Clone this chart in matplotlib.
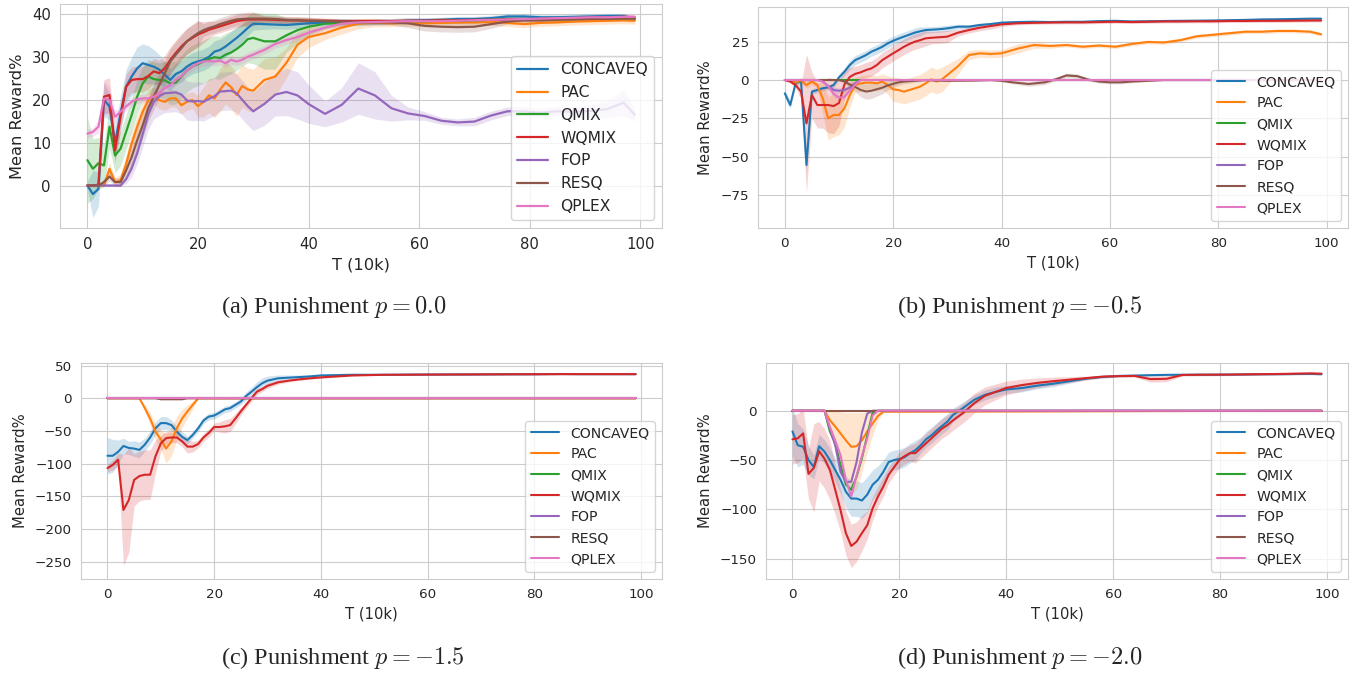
import numpy as np
import matplotlib
matplotlib.use('Agg')
import matplotlib.pyplot as plt
import seaborn as sns
from matplotlib.ticker import MultipleLocator

# methods in legend order
methods = ['CONCAVEQ', 'PAC', 'QMIX', 'WQMIX', 'FOP', 'RESQ', 'QPLEX']
colors = ['tab:blue', 'tab:orange', 'tab:green', 'tab:red', 'tab:purple', 'tab:brown', 'tab:pink']
captions = [r'(a) Punishment $p = 0.0$', r'(b) Punishment $p = -0.5$',
            r'(c) Punishment $p = -1.5$', r'(d) Punishment $p = -2.0$']

# shared time grid (T in 10k steps)
t_grid = list(range(0, 31)) + [32, 34, 36, 38, 40] + list(range(43, 98, 3)) + [99]
t_flat = [0, 99]
zero_flat = [0, 0]

# ---------------- (a) p = 0.0 ----------------
a_concaveq = [0, -2, -0.8, 20, 18.4, 10, 16.8, 23, 25.4, 27.3,
              28.5, 28.1, 27.7, 27, 25.8, 24.6, 26, 26.6, 27.7, 28.5,
              28.9, 29.3, 30, 31.2, 31.6, 32.4, 33.4, 34.4, 35.5, 36.7, 37.7,
              37.6, 37.5, 37.4, 37.6, 37.8,
              38, 38.1, 38, 38.2, 38.2, 38.4, 38.5, 38.6, 38.8, 38.8,
              39, 39.4, 39.4, 39.2, 39.2, 39.3, 39.4, 39.5, 39.5, 38.8]
a_concaveq_sd = [1, 5.5, 4, 4, 3, 4, 4, 4, 4.5, 5,
                 4.5, 4.5, 4, 3.5, 3, 2.5, 2.5, 2.5, 2.5, 2.5,
                 2.5, 2.5, 2.5, 2.5, 2.5, 2.5, 2.5, 2.5, 2, 1.8, 1.5,
                 1.2, 1, 1, 1, 0.8,
                 0.8, 0.8, 0.8, 0.7, 0.7, 0.7, 0.6, 0.6, 0.6, 0.6,
                 0.6, 0.6, 0.6, 0.6, 0.6, 0.6, 0.6, 0.6, 0.6, 0.6]
a_pac = [0, 0, 0, 0, 3.9, 0.8, 1.2, 5, 9.8, 13.7,
         17.2, 19.9, 21, 19.9, 19.5, 20.3, 20.3, 18.7, 19.5, 19.9,
         18.5, 19.5, 21, 20.3, 22.3, 24, 22.9, 21.1, 23.2, 22.4, 22.1,
         24.6, 25.4, 28.6, 32.8, 34.6,
         35.5, 36.8, 37.7, 38, 37.8, 37.9, 37.8, 37.9, 38, 38,
         38.1, 37.9, 37.6, 37.9, 38, 38.2, 38.3, 38.4, 38.5, 38.4]
a_pac_sd = [0.3, 0.3, 0.3, 0.3, 1.5, 1, 1.5, 2, 2.5, 2.5,
            2.5, 2.5, 2, 2, 2, 2, 2, 2, 2, 2,
            2.5, 3.5, 4, 4.5, 5, 5, 5, 5, 5, 5, 5,
            5, 4.5, 3.5, 3, 2.5,
            1.5, 1.5, 1.2, 1, 0.8, 0.8, 0.8, 0.8, 0.8, 0.8,
            0.8, 0.8, 0.8, 0.8, 0.8, 0.8, 0.8, 0.8, 0.8, 0.8]
a_qmix = [5.9, 3.9, 5.2, 4.7, 13.7, 7, 8.6, 12.5, 16.4, 20.7,
          23.8, 25.4, 24.8, 24.6, 24.5, 23.8, 24, 25.4, 26.8, 27.7,
          28.3, 28.9, 29.5, 29.9, 29.7, 30.5, 31, 31.8, 32.8, 34.1, 34.4,
          33.6, 33.6, 35, 36.2, 37,
          37.7, 37.9, 38, 38.1, 38.2, 38.3, 38.3, 38.4, 38.4, 38.5,
          38.6, 38.8, 38.8, 38.8, 38.9, 38.9, 39, 39, 39, 39]
a_qmix_sd = [10, 7, 6, 5, 5, 4, 4, 4, 4, 4,
             4, 4, 4, 4, 4.5, 5, 5, 5, 5, 5,
             5, 5, 5, 5, 5, 5, 5, 5, 5, 5.5, 6,
             6.5, 6.5, 4, 3, 2,
             1.2, 0.8, 0.6, 0.6, 0.6, 0.6, 0.6, 0.6, 0.6, 0.6,
             0.6, 0.6, 0.6, 0.6, 0.6, 0.6, 0.6, 0.6, 0.6, 0.6]
a_wqmix = [0, 0, 0.2, 20.7, 21.1, 8.2, 16, 23, 24.6, 24.8,
           24.8, 25.5, 26.6, 26.2, 27.3, 29.3, 30.9, 32.4, 33.6, 34.4,
           35.2, 35.7, 36.3, 36.7, 37.1, 37.5, 37.9, 38.3, 38.5, 38.7, 38.7,
           38.7, 38.6, 38.5, 38.5, 38.4,
           38.4, 38.3, 38.3, 38.3, 38.3, 38.4, 38.4, 38.5, 38.5, 38.6,
           38.6, 38.7, 38.7, 38.8, 38.9, 39, 39.1, 39.2, 39.3, 39.2]
a_wqmix_sd = [0.3, 0.3, 0.5, 4, 4, 3, 3, 3, 3, 3,
              3, 3, 3, 3, 3, 3, 3, 3, 3, 3,
              3, 2.5, 2, 1.5, 1.5, 1.5, 1.5, 1.5, 1.5, 1.5, 1.5,
              0.8, 0.8, 0.8, 0.8, 0.8,
              0.6, 0.6, 0.6, 0.6, 0.6, 0.6, 0.6, 0.6, 0.6, 0.6,
              0.6, 0.6, 0.6, 0.6, 0.6, 0.6, 0.6, 0.6, 0.6, 0.6]
a_fop = [0, 0, 0, 0, 0, 0, 0, 1.5, 4, 7.5,
         12, 16.5, 19.5, 20.8, 21.5, 21.6, 21.7, 21.2, 19.8, 19.6,
         19.7, 19.5, 20.2, 20.8, 21.9, 22, 22.1, 21.5, 20, 18.5, 17.3,
         19, 21.2, 21.8, 21, 19,
         16.7, 18.8, 22.6, 21, 18, 16.8, 16.2, 15.1, 14.7, 14.9,
         16.3, 17.3, 17.3, 17, 17.3, 17.2, 17.4, 17.8, 19.3, 16.5]
a_fop_sd = [0.2, 0.2, 0.2, 0.2, 0.2, 0.2, 0.2, 1, 2, 2.5,
            3, 3.5, 4, 4.5, 4.5, 4.5, 4.5, 4.5, 4.5, 4.5,
            4.5, 4.5, 4.5, 4.5, 4.5, 4.5, 4.5, 4.5, 4.5, 4.5, 4.5,
            5, 5, 5.5, 5.5, 4.5,
            3, 4, 6, 5.5, 3, 1.5, 1, 0.8, 0.8, 1,
            1, 1, 1, 1, 1, 1.2, 1.5, 2, 3, 1.5]
a_resq = [0, 0, 0, 0.8, 2.1, 0.8, 0.8, 3.5, 6.6, 10.5,
          14, 18, 20.7, 23.4, 26.2, 28.9, 30.5, 32, 33.6, 34.6,
          35.5, 36.2, 36.7, 37.1, 37.6, 38, 38.4, 38.7, 38.8, 38.9, 38.9,
          38.9, 38.8, 38.6, 38.5, 38.4,
          38.3, 38.2, 38.1, 38, 38, 37.8, 37.2, 37, 36.9, 37,
          37.6, 38.2, 38.5, 38.5, 38.6, 38.7, 38.8, 38.8, 38.9, 38.9]
a_resq_sd = [0.2, 0.2, 0.2, 1, 1, 1, 1, 2, 3, 3,
             3, 3, 3, 3, 3, 3, 3, 3, 3, 3,
             3, 1.5, 1.5, 1.5, 1.5, 1.5, 1.5, 1.5, 1.5, 1.5, 1.5,
             0.8, 0.8, 0.8, 0.8, 0.8,
             0.6, 0.6, 0.6, 0.6, 0.6, 1, 1.2, 1.2, 1.2, 1.2,
             1, 0.6, 0.6, 0.6, 0.6, 0.6, 0.6, 0.6, 0.6, 0.6]
a_qplex = [12.1, 12.5, 13.7, 20.3, 19.9, 16, 17.2, 18.4, 19.5, 20.1,
           20.3, 20.3, 20.7, 21.5, 22.7, 23.4, 24.6, 25.5, 26.8, 27.7,
           28.5, 28.9, 29, 28.9, 29.1, 28.5, 29.3, 28.9, 29.3, 30, 30.5,
           31.6, 33, 33.9, 34.6, 35.6,
           36.8, 37.7, 38, 38.1, 38.2, 38.3, 38.3, 38.3, 38.4, 38.5,
           38.6, 38.7, 38.8, 38.9, 39, 39.1, 39.2, 39.2, 39.3, 39.3]
a_qplex_sd = [1, 1, 1.5, 4, 3, 1.5, 1, 1, 1, 1,
              1, 1, 1, 1, 1, 1, 1, 1, 1, 1,
              1, 1, 1, 1, 1, 1, 1, 1, 1, 1, 1,
              1, 1, 1, 1, 0.8,
              0.6, 0.5, 0.5, 0.5, 0.5, 0.5, 0.5, 0.5, 0.5, 0.5,
              0.5, 0.5, 0.5, 0.5, 0.5, 0.5, 0.5, 0.5, 0.5, 0.5]

# ---------------- (b) p = -0.5 ----------------
b_concaveq = [-8.7, -16.3, -2, -1, -55.4, -7.6, -6.5, -5.4, -4.8, -3.3,
              1.7, 5.4, 9.8, 13, 14.6, 16.3, 18.5, 20, 21.7, 23.9,
              25.6, 27, 28.3, 29.6, 30.9, 31.8, 32.6, 32.8, 33, 33.3, 33.7,
              34.8, 34.8, 35.9, 36.5, 37.4,
              37.8, 38, 37.8, 38, 38, 38.4, 38.6, 38.2, 38.3, 38.5,
              38.6, 38.7, 38.8, 39, 39.2, 39.5, 39.6, 39.8, 40, 40]
b_concaveq_sd = [2.5, 2.5, 1, 1, 5, 2, 1.5, 1.5, 1.5, 1.5,
                 2, 2.5, 3, 3, 3, 3, 3, 3, 3, 3,
                 3, 3, 3, 3, 3, 3, 2, 2, 2, 2, 2,
                 1.5, 1.2, 1, 1, 1,
                 0.8, 0.8, 0.8, 0.8, 0.8, 0.8, 0.8, 0.8, 0.8, 0.8,
                 0.8, 0.8, 0.8, 0.8, 0.8, 0.8, 0.8, 0.8, 0.8, 0.8]
b_pac = [0, 0, -1.7, -0.4, -3.3, -1, -3.3, -12, -25, -22.8,
         -22.8, -18.5, -9.8, -3.3, -2.2, -1.7, -1.7, -2.2, -1, -3.3,
         -6.1, -6.5, -7.6, -6.5, -5.4, -4.3, -2.2, 0.4, -1, 0.4, 3.3,
         9.1, 16.3, 17.4, 17, 17.4,
         20.5, 22.8, 22.2, 22.8, 21.7, 22.5, 21.7, 23.5, 24.8, 24.5,
         26, 28.5, 29.5, 30.5, 31.5, 31.5, 32, 32, 31.5, 29.8]
b_pac_sd = [0.5, 0.5, 2, 2, 2, 2, 2, 10, 14, 14,
            13, 12, 8, 5, 5, 5, 5, 5, 5, 6,
            8, 8, 8, 8, 8, 8, 8, 8, 8, 8, 7,
            5, 3, 2.5, 2.5, 2.5,
            3, 2, 1.5, 1.2, 1.2, 1.2, 1.2, 1.2, 1.2, 1.2,
            1.2, 1.2, 1.2, 1.2, 1.2, 1.2, 1.2, 1.2, 1.2, 1.2]
b_wqmix = [0, -1, -3.3, -7.6, -28.3, -9.8, -16.3, -16.3, -16.3, -17,
           -15, -3, 2, 4, 5, 6.5, 7.6, 9.8, 13, 15.2,
           17.4, 19.5, 21.7, 23.5, 25, 26, 27.2, 27.5, 27.8, 28, 28.3,
           30.9, 32.6, 34.1, 35.2, 36.3,
           37, 37.3, 37.5, 37.6, 37.6, 37.8, 38, 37.8, 38, 38.2,
           38.2, 38.3, 38.3, 38.5, 38.5, 38.6, 38.6, 38.7, 38.8, 38.8]
b_wqmix_sd = [0.5, 1, 2, 5, 45, 15, 15, 15, 18, 18,
              15, 10, 6, 5, 5, 5, 5, 5, 5, 5,
              5, 5, 5, 5, 5, 5, 5, 4, 4, 4, 4,
              2, 2, 2, 2, 1.5,
              1, 1, 1, 1, 1, 1, 1, 1, 1, 1,
              1, 1, 1, 1, 1, 1, 1, 1, 1, 1]
b_dip_t = [0, 6, 7, 8, 9, 10, 11, 12, 13, 14, 99]
b_fop = [0, 0, -1, -4, -6.5, -7, -6.5, -5, -2, 0, 0]
b_fop_sd = [0, 0, 1, 1.5, 2, 2, 2, 1.5, 1, 0, 0]
b_qplex = [0, 0, -1, -4, -9, -11.5, -11, -7, -3, 0, 0]
b_qplex_sd = [0, 0, 1, 1.5, 2, 2, 2, 1.5, 1, 0, 0]
b_resq_t = [0, 10, 11, 12, 13, 14, 15, 16, 17, 18, 19, 20, 21, 22, 24, 26, 30,
            35, 38, 40, 42, 45, 48, 50, 52, 54, 56, 58, 60, 62, 64, 66, 70, 99]
b_resq = [0, 0, -1, -3, -4.5, -6.5, -7.5, -7, -6, -5, -3.5, -2.5, -1.5, -1, -0.5, 0, -0.5,
          -0.3, 0, -0.5, -1.5, -2.6, -1.5, 0.5, 3, 2.5, 0.3, -1, -1.5, -1.5, -1, -0.7, 0, 0]
b_resq_sd = [0, 0, 1, 2, 3, 4.5, 5, 5, 4.5, 4, 3, 2.5, 2, 1.5, 1, 0.5, 0.5,
             0.5, 0.5, 0.5, 1, 1.5, 1.5, 1, 1.5, 1.5, 1, 1, 1, 1, 0.8, 0.5, 0, 0]

# ---------------- (c) p = -1.5 ----------------
c_concaveq = [-88, -88, -82, -73, -76, -77, -79, -71, -60, -46,
              -38, -38, -41, -51, -59, -64, -56, -46, -34, -28,
              -26.5, -22, -17, -15, -10, -5, 3.6, 10, 17, 23, 27,
              30.6, 31.6, 32.5, 33.5, 35,
              35.5, 36, 36, 36, 36.2, 36.3, 36.4, 36.5, 36.5, 36.6,
              36.7, 36.8, 36.8, 37, 37.2, 37, 37, 37, 37, 37]
c_concaveq_sd = [28, 25, 18, 12, 10, 12, 12, 10, 10, 10,
                 10, 10, 8, 8, 8, 6, 5, 5, 5, 5,
                 5, 5, 5, 5, 5, 5, 6, 7, 8, 8, 7,
                 5, 4, 3, 2, 1.5,
                 1, 1, 1, 1, 1, 1, 1, 1, 1, 1,
                 1, 1, 1, 1, 1, 1, 1, 1, 1, 1]
c_wqmix = [-107, -102, -94, -171, -156, -125, -119, -117, -117, -89,
           -69, -61, -60, -60, -66, -74, -74, -70, -60, -53,
           -44, -44, -43, -41, -31, -20, -10, 0, 10, 14, 19,
           24.5, 27, 29, 30.6, 32,
           33.5, 35, 35.5, 36, 36, 36.2, 36.3, 36.4, 36.5, 36.6,
           36.7, 36.8, 36.8, 36.9, 37, 37, 37, 37, 37, 37]
c_wqmix_sd = [5, 8, 10, 85, 80, 40, 38, 38, 38, 25,
              12, 10, 8, 8, 8, 10, 8, 6, 6, 6,
              6, 8, 10, 10, 8, 6, 5, 5, 5, 4, 4,
              3, 2, 1.5, 1.5, 1.5,
              1, 1, 1, 1, 1, 1, 1, 1, 1, 1,
              1, 1, 1, 1, 1, 1, 1, 1, 1, 1]
c_pac_t = [0, 6, 7, 8, 9, 10, 11, 12, 13, 14, 15, 16, 17, 99]
c_pac = [0, 0, -15, -31, -51, -63, -77, -66, -46, -31, -20, -10, 0, 0]
c_pac_sd = [0, 0, 5, 10, 12, 15, 22, 22, 18, 14, 10, 6, 1, 0]
c_resq_t = [0, 9, 10, 14, 15, 99]
c_resq = [0, 0, -1.5, -1.5, 0, 0]

# ---------------- (d) p = -2.0 ----------------
d_concaveq = [-21, -35, -36.5, -50, -57, -36, -41.5, -50, -60, -70,
              -82, -89, -89, -91, -85, -75, -70, -62, -52, -50,
              -49, -47, -43, -40, -35, -29, -25, -20, -15.5, -11, -4.5,
              3, 11, 16, 19, 21.5,
              23, 25.5, 27.5, 30, 32.5, 34.2, 35.2, 35.6, 36, 36.3,
              36.4, 36.5, 36.5, 36.6, 36.8, 37, 37, 37.2, 37.3, 37]
d_concaveq_sd = [25, 22, 18, 15, 12, 12, 12, 12, 12, 14,
                 16, 18, 18, 18, 18, 15, 14, 12, 10, 10,
                 10, 10, 10, 10, 8, 8, 8, 8, 8, 8, 7,
                 6, 5, 5, 5, 4,
                 4, 3, 3, 2, 1, 1, 1, 1, 1, 1,
                 1, 1, 1, 1, 1, 1, 1, 1, 1, 1]
d_wqmix = [-29, -28, -23, -64, -58, -41, -48.6, -60, -80, -100.7,
           -124, -137, -132.7, -124, -116, -99, -87, -77, -65, -57.4,
           -50, -46, -43, -43, -38, -33, -28, -23, -18, -14.5, -10,
           -2, 7.5, 15, 19, 23,
           26, 28.3, 30, 31.5, 33, 34.5, 35, 35.2, 32, 32.3,
           36.2, 36.4, 36.5, 36.6, 36.8, 37, 37.2, 37.5, 37.8, 37.5]
d_wqmix_sd = [25, 25, 25, 25, 45, 30, 30, 30, 25, 22,
              22, 22, 20, 18, 14, 12, 10, 10, 8, 8,
              8, 8, 8, 10, 10, 10, 10, 10, 10, 10, 10,
              10, 10, 9, 8, 7,
              6, 5, 4, 3, 2, 1.5, 1, 1, 3, 3,
              1, 1, 1, 1, 1, 1, 1, 1, 1, 1]
d_pac_t = [0, 6, 7, 8, 9, 10, 11, 12, 13, 14, 15, 16, 17, 99]
d_pac = [0, 0, -9.5, -16, -23, -30, -36.5, -36, -30, -21, -13, -5.4, -1, 0]
d_pac_lo = [0, 0, -20, -38, -55, -70, -84, -80, -62, -42, -25, -10, -2, 0]
d_pac_hi = [0, 0, 0, 0, -1, -2, -2, -2, -2, -1, 0, 0, 0, 0]
d_dip_t = [0, 6, 7, 8, 9, 10, 11, 12, 13, 14, 15, 16, 99]
d_qmix = [0, 0, -21, -33, -55, -75, -80, -67, -48, -25, -2, 0, 0]
d_fop = [0, 0, -18, -35, -62, -72, -72, -52, -22, -3, 0, 0, 0]
d_qplex = [0, 0, -16, -30, -45, -70, -87, -66, -46, -28, -5, 0, 0]

# (t, mean, band) for each method, per panel; band is a spread list or a (lo, hi) pair
panels = [
    [(t_grid, a_concaveq, a_concaveq_sd), (t_grid, a_pac, a_pac_sd), (t_grid, a_qmix, a_qmix_sd),
     (t_grid, a_wqmix, a_wqmix_sd), (t_grid, a_fop, a_fop_sd), (t_grid, a_resq, a_resq_sd),
     (t_grid, a_qplex, a_qplex_sd)],
    [(t_grid, b_concaveq, b_concaveq_sd), (t_grid, b_pac, b_pac_sd), (t_flat, zero_flat, None),
     (t_grid, b_wqmix, b_wqmix_sd), (b_dip_t, b_fop, b_fop_sd), (b_resq_t, b_resq, b_resq_sd),
     (b_dip_t, b_qplex, b_qplex_sd)],
    [(t_grid, c_concaveq, c_concaveq_sd), (c_pac_t, c_pac, c_pac_sd), (t_flat, zero_flat, None),
     (t_grid, c_wqmix, c_wqmix_sd), (t_flat, zero_flat, None), (c_resq_t, c_resq, None),
     (t_flat, zero_flat, None)],
    [(t_grid, d_concaveq, d_concaveq_sd), (d_pac_t, d_pac, (d_pac_lo, d_pac_hi)), (d_dip_t, d_qmix, None),
     (t_grid, d_wqmix, d_wqmix_sd), (d_dip_t, d_fop, None), (t_flat, zero_flat, None),
     (d_dip_t, d_qplex, None)],
]
ylims = [(-9.9, 42.3), (-96.5, 47.6), (-276.7, 54), (-170.5, 48.3)]
ysteps = [10, 25, 50, 50]

sns.set_style('whitegrid')
plt.rcParams['font.family'] = ['DejaVu Sans']
plt.rcParams['mathtext.fontset'] = 'cm'

fig = plt.figure(figsize=(13.55, 6.75), dpi=100)
boxes = [[0.0443, 0.6622, 0.4443, 0.3319], [0.5594, 0.6622, 0.4354, 0.3274],
         [0.0598, 0.1422, 0.4288, 0.3200], [0.5653, 0.1422, 0.4295, 0.3200]]
# tick, label, legend font sizes and line width per panel
sizes = [(10.7, 11.7, 11.2, 1.6), (9.7, 10.6, 10.1, 1.5), (9.7, 10.6, 10.1, 1.5), (9.7, 10.6, 10.1, 1.5)]
cap_pos = [(0.163, 0.545), (0.662, 0.545), (0.163, 0.025), (0.662, 0.025)]

for i in range(4):
    ax = fig.add_axes(boxes[i])
    fs_tick, fs_label, fs_leg, lw = sizes[i]
    for (t, mean, band), name, col in zip(panels[i], methods, colors):
        ax.plot(t, mean, color=col, lw=lw, label=name)
        if band is None:
            continue
        if isinstance(band, tuple):
            lo, hi = band
        else:
            lo = np.array(mean) - np.array(band)
            hi = np.array(mean) + np.array(band)
        ax.fill_between(t, lo, hi, color=col, alpha=0.2, lw=0)
    ax.set_xlim(-4.95, 103.95)
    ax.set_ylim(*ylims[i])
    ax.xaxis.set_major_locator(MultipleLocator(20))
    ax.yaxis.set_major_locator(MultipleLocator(ysteps[i]))
    ax.tick_params(length=0, pad=6.5, labelsize=fs_tick, colors='0.15')
    ax.set_xlabel('T (10k)', fontsize=fs_label, color='0.15', labelpad=4)
    ax.set_ylabel('Mean Reward%', fontsize=fs_label, color='0.15', labelpad=5)
    ax.legend(loc='lower right', fontsize=fs_leg)
    fig.text(cap_pos[i][0], cap_pos[i][1], captions[i], ha='left', va='center',
             family='Liberation Serif', fontsize=17.5)

fig.savefig('out.png', dpi=100)
